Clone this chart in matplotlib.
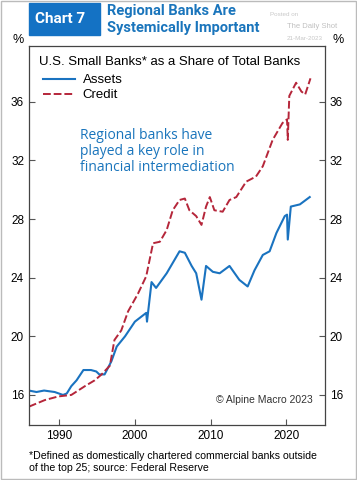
import numpy as np
import matplotlib
matplotlib.use("Agg")
from matplotlib import pyplot as plt
from matplotlib.patches import Rectangle

# values (% share of total banks)
assets_years = [1986, 1987, 1988, 1989.4, 1990.5, 1991, 1991.6, 1992.3, 1993.2,
                1994.2, 1994.9, 1995.3, 1996, 1996.9, 1997.6, 1998.7, 2000,
                2001.5, 2001.6, 2002.2, 2002.8, 2004.2, 2005.9, 2006.6, 2007.5,
                2008.1, 2008.8, 2009.4, 2010.3, 2011.2, 2012.5, 2013.8, 2014.9,
                2015.8, 2016.9, 2017.8, 2018.7, 2019.8, 2020.1, 2020.2, 2020.6,
                2021.8, 2023.1]
assets = [16.3, 16.2, 16.3, 16.2, 16.0, 16.1, 16.6, 17.0, 17.7,
          17.7, 17.6, 17.4, 17.4, 18.3, 19.3, 20.0, 21.0,
          21.6, 21.0, 23.7, 23.3, 24.3, 25.8, 25.7, 24.8,
          24.3, 22.5, 24.8, 24.4, 24.3, 24.8, 23.85, 23.4,
          24.5, 25.55, 25.8, 27.05, 28.2, 28.3, 26.6, 28.85,
          29.0, 29.5]

credit_years = [1986, 1988.1, 1989.9, 1991.6, 1993.4, 1994.7, 1995.6, 1996.7,
                1997.3, 1998.2, 1999.1, 2000.4, 2001.5, 2002.4, 2003.3, 2004.2,
                2005, 2005.9, 2006.6, 2007.2, 2008.1, 2008.8, 2009.4, 2009.9,
                2010.5, 2011.6, 2012.5, 2013.4, 2014.7, 2016, 2016.9, 2018.2,
                2019.5, 2020.1, 2020.2, 2020.4, 2021.3, 2022, 2022.5, 2023.2]
credit = [15.2, 15.65, 15.9, 16.0, 16.6, 17.0, 17.4, 18.0,
          19.75, 20.4, 21.7, 22.9, 24.1, 26.35, 26.45, 27.25,
          28.6, 29.3, 29.4, 28.6, 28.2, 27.6, 28.85, 29.5,
          28.6, 28.5, 29.3, 29.5, 30.55, 30.9, 31.6, 33.4,
          34.55, 34.8, 33.4, 36.4, 37.3, 36.7, 36.5, 37.6]

y_ticks = [16, 20, 24, 28, 32, 36]
x_ticks = [1990, 2000, 2010, 2020]

blue = "#1a73c0"
red = "#b5263a"
title_blue = "#1a75bc"

plt.rcParams["font.family"] = ["Liberation Sans", "DejaVu Sans"]

fig = plt.figure(figsize=(3.57, 4.8), dpi=100)
ax = fig.add_axes([0.081, 0.1146, 0.829, 0.7894])

ax.plot(assets_years, assets, color=blue, lw=1.5, label="Assets")
ax.plot(credit_years, credit, color=red, lw=1.4, ls=(0, (4, 1.5)), label="Credit")

ax.set_xlim(1986, 2025.1)
ax.set_ylim(13.95, 39.8)
ax.set_xticks(x_ticks)
ax.set_yticks(y_ticks)
ax.tick_params(direction="in", length=4, labelsize=8.5, color="#555555",
               right=True, labelright=True)
for s in ax.spines.values():
    s.set_color("#444444")
    s.set_linewidth(0.9)

ax.text(0.035, 0.975, "U.S. Small Banks* as a Share of Total Banks",
        transform=ax.transAxes, fontsize=9.5, va="top", ha="left")
ax.legend(loc="upper left", bbox_to_anchor=(0.03, 0.94), frameon=False,
          fontsize=9.5, handlelength=2.4, handletextpad=0.6,
          labelspacing=0.2, borderaxespad=0)

ax.text(0.172, 0.785, "Regional banks have\nplayed a key role in\nfinancial intermediation",
        transform=ax.transAxes, fontsize=10, color=title_blue, va="top",
        family="Open Sans", linespacing=1.1)
ax.text(0.96, 0.065, "\u00a9 Alpine Macro 2023", transform=ax.transAxes,
        fontsize=7.5, ha="right", va="center", color="#333333")

fig.text(18 / 357, 1 - 46 / 480, "%", fontsize=9, ha="center", va="bottom")
fig.text(338 / 357, 1 - 46 / 480, "%", fontsize=9, ha="center", va="bottom")

# header
fig.patches.append(Rectangle((29 / 357, 1 - 35 / 480), 71 / 357, 32 / 480,
                             transform=fig.transFigure, color="#1472c4"))
fig.text(35 / 357, 1 - 19 / 480, "Chart 7", color="white", fontsize=11,
         weight="bold", family="Roboto", va="center")
fig.text(107 / 357, 1 - 11 / 480, "Regional Banks Are", color=title_blue,
         fontsize=10.5, weight="bold", family="Roboto", va="center")
fig.text(107 / 357, 1 - 28 / 480, "Systemically Important", color=title_blue,
         fontsize=10.5, weight="bold", family="Roboto", va="center")
fig.text(270 / 357, 1 - 15 / 480, "Posted on", color="#c8c8c8", fontsize=4.5,
         va="center")
fig.text(287 / 357, 1 - 26 / 480, "The Daily Shot", color="#c0c0c0", fontsize=5.5,
         va="center")
fig.text(287 / 357, 1 - 38 / 480, "21-Mar-2023", color="#c8c8c8", fontsize=4.5,
         va="center")

fig.text(29 / 357, 1 - 451 / 480,
         "*Defined as domestically chartered commercial banks outside\nof the top 25; source: Federal Reserve",
         fontsize=7.6, va="top", ha="left", linespacing=1.3)

fig.patches.append(Rectangle((0.002, 0.002), 0.996, 0.996, transform=fig.transFigure,
                             fill=False, edgecolor="#bbbbbb", lw=1))

fig.savefig("out.png", dpi=100)
